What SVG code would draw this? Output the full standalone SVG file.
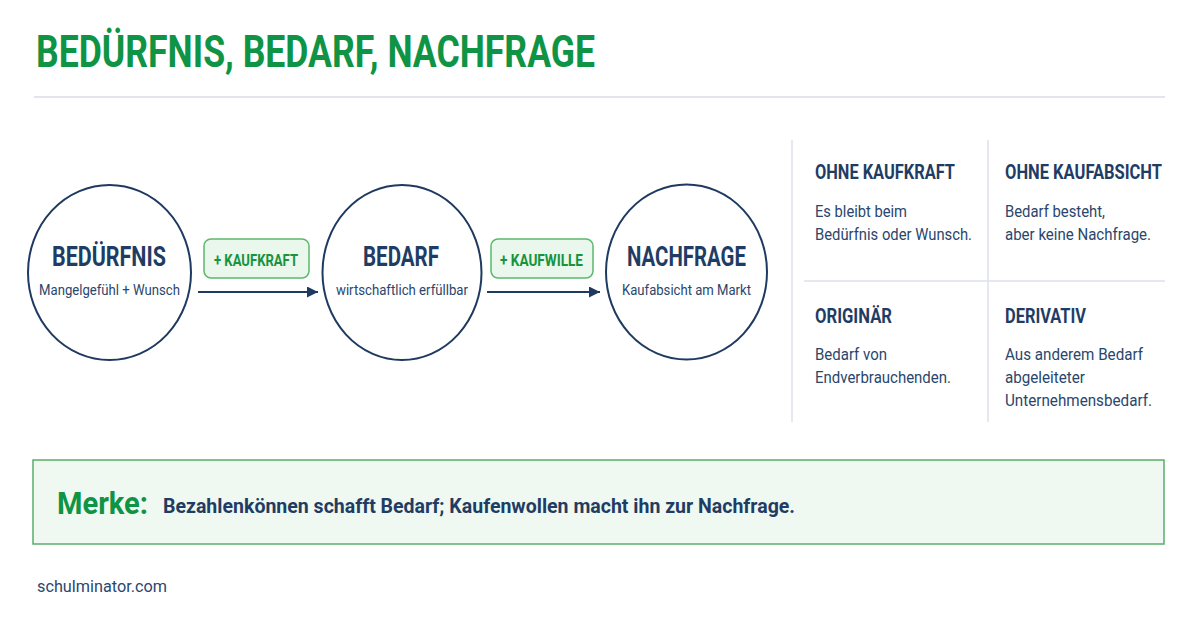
<svg xmlns="http://www.w3.org/2000/svg" width="1200" height="630" viewBox="0 0 1200 630">
<style>
text{font-family:Roboto,"Liberation Sans",sans-serif}
.title{font-size:45px;font-weight:700;fill:#0e9444}
.node{fill:#ffffff;stroke:#1f3a60;stroke-width:2}
.nh{font-size:27px;font-weight:700;fill:#1f3d64}
.ns{font-size:15px;font-weight:400;fill:#2a466c}
.lbox{fill:#eaf7ec;stroke:#5cb86a;stroke-width:1.5}
.ltx{font-size:16px;font-weight:700;fill:#17943c}
.conn{stroke:#1f3a60;stroke-width:2;fill:none}
.gl{stroke:#dde2ea;stroke-width:1.5}
.gh{font-size:20px;font-weight:700;fill:#1f3d64}
.gb{font-size:16px;font-weight:400;fill:#2a466c}
.mk{font-size:31px;font-weight:700;fill:#0e9444}
.mt{font-size:21px;font-weight:700;fill:#1f3d64}
.ft{font-size:17px;font-weight:400;fill:#2a466c}
</style>
<defs>
<marker id="arr" viewBox="0 0 10 10" refX="10" refY="5" markerWidth="5.5" markerHeight="5.5" orient="auto" markerUnits="strokeWidth">
<path d="M0,0 L10,5 L0,10 z" fill="#1f3a60"/>
</marker>
</defs>
<rect width="1200" height="630" fill="#ffffff"/>
<g id="header">
<text class="title" x="36" y="67" textLength="559" lengthAdjust="spacingAndGlyphs">BEDÜRFNIS, BEDARF, NACHFRAGE</text>
<line x1="34" y1="97" x2="1165" y2="97" stroke="#d8dce6" stroke-width="1.5"/>
</g>
<g id="connectors">
<line class="conn" x1="198" y1="292" x2="318" y2="292" marker-end="url(#arr)"/>
<line class="conn" x1="487" y1="292" x2="600" y2="292" marker-end="url(#arr)"/>
</g>
<g id="node-beduerfnis">
<ellipse class="node" cx="109.5" cy="272.5" rx="81.5" ry="87.5"/>
<text class="nh" x="52" y="266" textLength="114" lengthAdjust="spacingAndGlyphs">BEDÜRFNIS</text>
<text class="ns" x="39" y="295" textLength="141" lengthAdjust="spacingAndGlyphs">Mangelgefühl + Wunsch</text>
</g>
<g id="node-bedarf">
<ellipse class="node" cx="402" cy="272.5" rx="79.5" ry="87.5"/>
<text class="nh" x="363" y="266" textLength="76" lengthAdjust="spacingAndGlyphs">BEDARF</text>
<text class="ns" x="336" y="295" textLength="132" lengthAdjust="spacingAndGlyphs">wirtschaftlich erfüllbar</text>
</g>
<g id="node-nachfrage">
<ellipse class="node" cx="686.5" cy="272" rx="80.5" ry="87.5"/>
<text class="nh" x="627" y="266" textLength="119" lengthAdjust="spacingAndGlyphs">NACHFRAGE</text>
<text class="ns" x="622" y="295" textLength="129" lengthAdjust="spacingAndGlyphs">Kaufabsicht am Markt</text>
</g>
<g id="label-kaufkraft">
<rect class="lbox" x="204" y="239" width="105" height="39" rx="7"/>
<text class="ltx" x="214" y="266" textLength="84" lengthAdjust="spacingAndGlyphs">+ KAUFKRAFT</text>
</g>
<g id="label-kaufwille">
<rect class="lbox" x="491" y="239" width="102" height="39" rx="7"/>
<text class="ltx" x="500" y="266" textLength="83" lengthAdjust="spacingAndGlyphs">+ KAUFWILLE</text>
</g>
<g id="grid">
<line class="gl" x1="792" y1="140" x2="792" y2="422"/>
<line class="gl" x1="988" y1="140" x2="988" y2="422"/>
<line class="gl" x1="804" y1="281" x2="1165" y2="281"/>
</g>
<g id="cell-ohne-kaufkraft">
<text class="gh" x="815" y="179" textLength="140" lengthAdjust="spacingAndGlyphs">OHNE KAUFKRAFT</text>
<text class="gb" x="815" y="217" textLength="92" lengthAdjust="spacingAndGlyphs">Es bleibt beim</text>
<text class="gb" x="815" y="240" textLength="157" lengthAdjust="spacingAndGlyphs">Bedürfnis oder Wunsch.</text>
</g>
<g id="cell-ohne-kaufabsicht">
<text class="gh" x="1005" y="179" textLength="157" lengthAdjust="spacingAndGlyphs">OHNE KAUFABSICHT</text>
<text class="gb" x="1005" y="217" textLength="100" lengthAdjust="spacingAndGlyphs">Bedarf besteht,</text>
<text class="gb" x="1005" y="240" textLength="146" lengthAdjust="spacingAndGlyphs">aber keine Nachfrage.</text>
</g>
<g id="cell-originaer">
<text class="gh" x="815" y="323" textLength="77" lengthAdjust="spacingAndGlyphs">ORIGINÄR</text>
<text class="gb" x="815" y="360" textLength="72" lengthAdjust="spacingAndGlyphs">Bedarf von</text>
<text class="gb" x="815" y="383" textLength="136" lengthAdjust="spacingAndGlyphs">Endverbrauchenden.</text>
</g>
<g id="cell-derivativ">
<text class="gh" x="1005" y="323" textLength="81" lengthAdjust="spacingAndGlyphs">DERIVATIV</text>
<text class="gb" x="1005" y="360" textLength="138" lengthAdjust="spacingAndGlyphs">Aus anderem Bedarf</text>
<text class="gb" x="1005" y="383" textLength="80" lengthAdjust="spacingAndGlyphs">abgeleiteter</text>
<text class="gb" x="1005" y="406" textLength="147" lengthAdjust="spacingAndGlyphs">Unternehmensbedarf.</text>
</g>
<g id="merke">
<rect x="33" y="460" width="1131" height="84" fill="#f0f9f1" stroke="#5aae6a" stroke-width="1.5"/>
<text class="mk" x="57" y="514" textLength="91" lengthAdjust="spacingAndGlyphs">Merke:</text>
<text class="mt" x="163" y="513" textLength="632" lengthAdjust="spacingAndGlyphs">Bezahlenkönnen schafft Bedarf; Kaufenwollen macht ihn zur Nachfrage.</text>
</g>
<g id="footer">
<text class="ft" x="37" y="592" textLength="130" lengthAdjust="spacingAndGlyphs">schulminator.com</text>
</g>
</svg>
